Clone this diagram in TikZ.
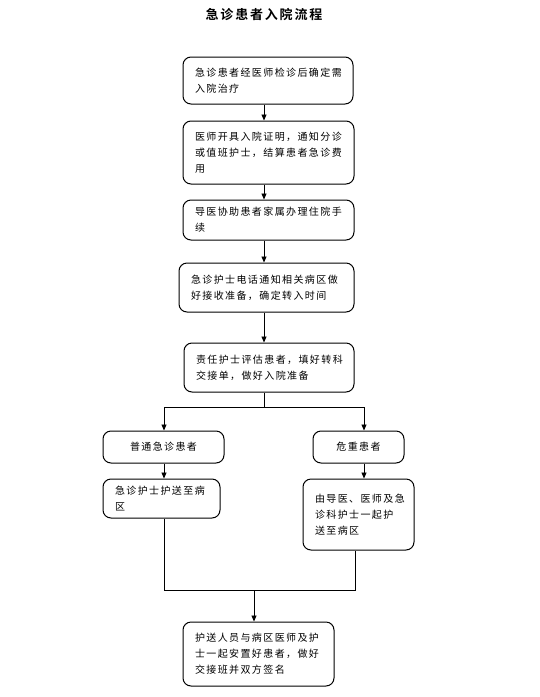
\documentclass[tikz,border=0pt]{standalone}
\usepackage{fontspec}
\newfontfamily\cjk{Noto Sans CJK SC}[LetterSpace=14, BoldFont={Noto Sans CJK SC Bold}]
\usetikzlibrary{arrows.meta}

\begin{document}
\begin{tikzpicture}[
    x=1pt, y=-1pt,
    flowbox/.style={draw, rounded corners=8pt, line width=1pt, align=left,
        inner xsep=12pt, inner ysep=0pt, font=\cjk\fontsize{10}{16}\selectfont},
    >={Triangle[length=6pt, width=5pt]},
    line width=0.8pt
]
    \useasboundingbox (0,0) rectangle (540,697);

    % 标题
    \node[font=\cjk\bfseries\fontsize{13}{16}\selectfont] (title) at (264,14) {急诊患者入院流程};

    % 节点定义 (主流程)
    \node[flowbox, text width=146pt, minimum height=47pt] (b1) at (268,80.5)
        {急诊患者经医师检诊后确定需\\入院治疗};
    \node[flowbox, text width=147pt, minimum height=63pt] (b2) at (268.5,152.5)
        {医师开具入院证明，通知分诊\\或值班护士，结算患者急诊费\\用};
    \node[flowbox, text width=147pt, minimum height=40pt] (b3) at (268.5,220)
        {导医协助患者家属办理住院手\\续};
    \node[flowbox, text width=151pt, minimum height=49pt] (b4) at (266.5,287.5)
        {急诊护士电话通知相关病区做\\好接收准备，确定转入时间};
    \node[flowbox, text width=146pt, minimum height=49pt] (b5) at (269,367.5)
        {责任护士评估患者，填好转科\\交接单，做好入院准备};

    % 左分支
    \node[flowbox, align=center, text width=97pt, minimum height=32pt] (pa) at (163.5,447)
        {普通急诊患者};
    \node[flowbox, text width=93pt, minimum height=39pt] (pb) at (161.5,498.5)
        {急诊护士护送至病\\区};

    % 右分支
    \node[flowbox, align=center, text width=67pt, minimum height=32pt] (wa) at (358.5,447)
        {危重患者};
    \node[flowbox, text width=87pt, minimum height=71pt] (wb) at (358.5,514.5)
        {由导医、医师及急\\诊科护士一起护\\送至病区};

    % 汇合
    \node[flowbox, text width=127pt, minimum height=64pt] (b6) at (258.5,654)
        {护送人员与病区医师及护\\士一起安置好患者，做好\\交接班并双方签名};

    % 辅助坐标
    \coordinate (ax) at (264,0);
    \coordinate (lc) at (164,407);
    \coordinate (rc) at (364,407);
    \coordinate (jl) at (164,590);
    \coordinate (jr) at (355,590);
    \coordinate (jm) at (254,590);

    % 1. 主流程箭头
    \draw[->] (ax |- b1.south) -- (ax |- b2.north);
    \draw[->] (ax |- b2.south) -- (ax |- b3.north);
    \draw[->] (ax |- b3.south) -- (ax |- b4.north);
    \draw[->] (ax |- b4.south) -- (ax |- b5.north);

    % 2. 分支
    \draw (ax |- b5.south) -- (ax |- lc);
    \draw (lc) -- (rc);
    \draw[->] (lc) -- (lc |- pa.north);
    \draw[->] (rc) -- (rc |- wa.north);
    \draw[->] (lc |- pa.south) -- (lc |- pb.north);
    \draw[->] (rc |- wa.south) -- (rc |- wb.north);

    % 3. 汇合到最后一步
    \draw (lc |- pb.south) -- (jl) -- (jr) -- (jr |- wb.south);
    \draw[->] (jm) -- (jm |- b6.north);

\end{tikzpicture}
\end{document}
